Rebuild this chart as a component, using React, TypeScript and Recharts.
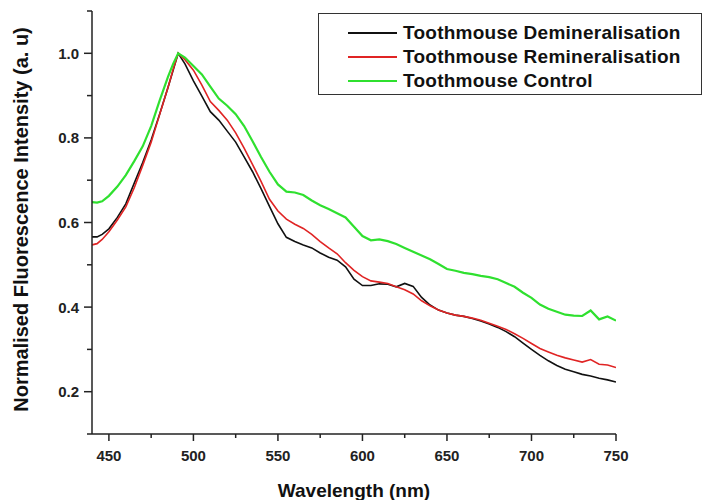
import React from 'react';
import { LineChart, Line, XAxis, YAxis, Legend } from 'recharts';

const wavelengths = [440, 443, 446, 450, 455, 460, 465, 470, 475, 480, 485, 488, 491, 495, 500, 505, 510, 515, 520, 525, 530, 535, 540, 545, 550, 555, 560, 565, 570, 575, 580, 585, 590, 595, 600, 605, 610, 615, 620, 625, 630, 635, 640, 645, 650, 655, 660, 665, 670, 675, 680, 685, 690, 695, 700, 705, 710, 715, 720, 725, 730, 735, 740, 745, 750];

const demineralisation = [0.566, 0.566, 0.572, 0.585, 0.612, 0.644, 0.693, 0.742, 0.795, 0.856, 0.920, 0.960, 1.000, 0.975, 0.935, 0.899, 0.862, 0.842, 0.816, 0.790, 0.755, 0.720, 0.680, 0.638, 0.597, 0.565, 0.555, 0.547, 0.540, 0.528, 0.518, 0.511, 0.495, 0.466, 0.451, 0.451, 0.455, 0.454, 0.448, 0.456, 0.449, 0.423, 0.405, 0.393, 0.386, 0.381, 0.378, 0.373, 0.367, 0.360, 0.352, 0.342, 0.330, 0.315, 0.300, 0.286, 0.273, 0.262, 0.253, 0.247, 0.241, 0.237, 0.232, 0.228, 0.223];

const remineralisation = [0.547, 0.550, 0.560, 0.578, 0.606, 0.637, 0.682, 0.735, 0.790, 0.855, 0.920, 0.962, 1.000, 0.985, 0.960, 0.925, 0.886, 0.865, 0.842, 0.812, 0.776, 0.737, 0.697, 0.655, 0.627, 0.608, 0.596, 0.586, 0.572, 0.555, 0.540, 0.526, 0.505, 0.487, 0.472, 0.462, 0.459, 0.456, 0.448, 0.441, 0.431, 0.415, 0.403, 0.393, 0.386, 0.381, 0.378, 0.374, 0.369, 0.362, 0.355, 0.347, 0.337, 0.326, 0.314, 0.302, 0.294, 0.286, 0.280, 0.275, 0.270, 0.276, 0.265, 0.263, 0.257];

const control = [0.648, 0.647, 0.650, 0.663, 0.685, 0.712, 0.745, 0.780, 0.828, 0.888, 0.945, 0.975, 1.000, 0.990, 0.970, 0.950, 0.921, 0.893, 0.876, 0.856, 0.828, 0.792, 0.755, 0.720, 0.690, 0.673, 0.671, 0.665, 0.652, 0.641, 0.632, 0.622, 0.612, 0.590, 0.568, 0.558, 0.560, 0.556, 0.549, 0.540, 0.531, 0.522, 0.513, 0.502, 0.490, 0.486, 0.481, 0.478, 0.474, 0.471, 0.466, 0.457, 0.448, 0.434, 0.422, 0.406, 0.396, 0.389, 0.382, 0.380, 0.379, 0.392, 0.371, 0.378, 0.368];

const xTicks = [450, 475, 500, 525, 550, 575, 600, 625, 650, 675, 700, 725, 750];
const yTicks = [0.1, 0.2, 0.3, 0.4, 0.5, 0.6, 0.7, 0.8, 0.9, 1.0, 1.1];

const seriesNames = ['Toothmouse Demineralisation', 'Toothmouse Remineralisation', 'Toothmouse Control'];

const data = wavelengths.map((w, i) => ({
  wavelength: w,
  demin: demineralisation[i],
  remin: remineralisation[i],
  control: control[i],
}));

const FONT = '"Liberation Sans", Arial, Helvetica, sans-serif';
const AXIS = '#222';

const XTick = (props: any) => {
  const { x, y, payload } = props;
  const major = payload.value % 50 === 0;
  return (
    <g>
      <line x1={x} x2={x} y1={y} y2={y + (major ? 7 : 4)} stroke={AXIS} strokeWidth={1.5} />
      {major && (
        <text x={x} y={y + 27} textAnchor="middle" fontFamily={FONT} fontWeight="bold" fontSize={15} fill="#222">
          {payload.value}
        </text>
      )}
    </g>
  );
};

const YTick = (props: any) => {
  const { x, y, payload } = props;
  const major = Math.round(payload.value * 10) % 2 === 0;
  return (
    <g>
      <line x1={x} x2={x - (major ? 8 : 5)} y1={y} y2={y} stroke={AXIS} strokeWidth={1.5} />
      {major && (
        <text x={x - 13} y={y + 5.5} textAnchor="end" fontFamily={FONT} fontWeight="bold" fontSize={15} fill="#222">
          {payload.value.toFixed(1)}
        </text>
      )}
    </g>
  );
};

const XLabel = (props: any) => {
  const { viewBox } = props;
  const cx = viewBox.x + viewBox.width / 2;
  return (
    <text x={cx} y={viewBox.y + 63} textAnchor="middle" fontFamily={FONT} fontWeight="bold" fontSize={19} fill="#111">
      Wavelength (nm)
    </text>
  );
};

const YLabel = (props: any) => {
  const { viewBox } = props;
  const cy = viewBox.y + viewBox.height / 2 - 3;
  const x = 28;
  return (
    <text x={x} y={cy} transform={`rotate(-90, ${x}, ${cy})`} textAnchor="middle" fontFamily={FONT} fontWeight="bold" fontSize={20} fill="#111">
      Normalised Fluorescence Intensity (a. u)
    </text>
  );
};

const LegendBox = (props: any) => {
  const payload = [...(props.payload || [])].sort(
    (a: any, b: any) => seriesNames.indexOf(a.value) - seriesNames.indexOf(b.value)
  );
  return (
    <div
      style={{
        position: 'absolute',
        left: 0,
        top: 0,
        width: 384,
        height: 82,
        boxSizing: 'border-box',
        border: '1.5px solid #333',
        background: '#fff',
        paddingTop: 7,
      }}
    >
      {payload.map((entry: any, i: number) => (
        <div key={i} style={{ display: 'flex', alignItems: 'center', height: 24, marginLeft: 29 }}>
          <div style={{ width: 49, height: 0, borderTop: `2px solid ${entry.color}`, marginRight: 6 }} />
          <span
            style={{
              fontFamily: FONT,
              fontWeight: 'bold',
              fontSize: 19,
              letterSpacing: 0.25,
              color: '#111',
              lineHeight: '24px',
              whiteSpace: 'nowrap',
            }}
          >
            {entry.value}
          </span>
        </div>
      ))}
    </div>
  );
};

export default function App() {
  return (
    <div style={{ position: 'absolute', left: 0, top: 0, width: 704, height: 500, background: '#fff' }}>
      <LineChart width={704} height={500} data={data} margin={{ top: 11, right: 88, bottom: 0, left: 0 }}>
        <XAxis
          dataKey="wavelength"
          type="number"
          domain={[440, 750]}
          ticks={xTicks}
          interval={0}
          height={66}
          tickSize={0}
          tickMargin={0}
          tickLine={false}
          axisLine={{ stroke: AXIS, strokeWidth: 1.5 }}
          tick={<XTick />}
          label={<XLabel />}
          allowDataOverflow
        />
        <YAxis
          type="number"
          domain={[0.1, 1.1]}
          ticks={yTicks}
          interval={0}
          width={92}
          tickSize={0}
          tickMargin={0}
          tickLine={false}
          axisLine={{ stroke: AXIS, strokeWidth: 1.5 }}
          tick={<YTick />}
          label={<YLabel />}
          allowDataOverflow
        />
        <Legend
          layout="vertical"
          align="center"
          verticalAlign="middle"
          content={<LegendBox />}
          wrapperStyle={{ left: 318, top: 13, width: 384, height: 82 }}
        />
        <Line dataKey="demin" name={seriesNames[0]} stroke="#111111" strokeWidth={1.6} dot={false} type="linear" isAnimationActive={false} />
        <Line dataKey="remin" name={seriesNames[1]} stroke="#e02424" strokeWidth={1.6} dot={false} type="linear" isAnimationActive={false} />
        <Line dataKey="control" name={seriesNames[2]} stroke="#2fe02f" strokeWidth={2.2} dot={false} type="linear" isAnimationActive={false} />
      </LineChart>
    </div>
  );
}
